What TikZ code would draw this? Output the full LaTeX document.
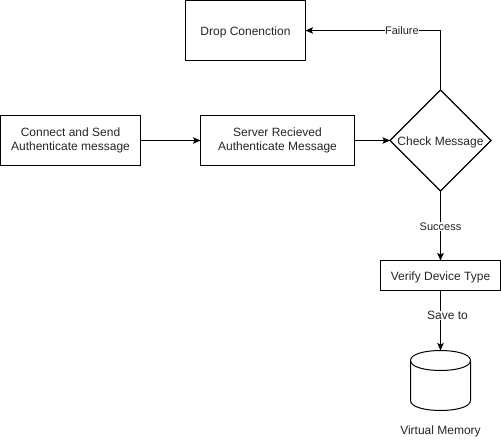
\documentclass[tikz,border=0pt]{standalone}
\usepackage{fontspec}
\setmainfont{Liberation Sans}
\usetikzlibrary{shapes.geometric,arrows.meta}
\newcommand{\smalltag}{\fontsize{11}{13}\selectfont}
\tikzset{
  box/.style={draw=black,fill=white,line width=1pt,inner sep=0pt,outer sep=0pt,align=center,text=black!85,execute at begin node={\rule{0pt}{12pt}}},
  check/.style={draw=black,fill=white,diamond,line width=1.2pt,inner sep=0pt,outer sep=0pt,minimum width=101pt,minimum height=101pt,text=black!85},
  store/.style={inner sep=0pt,outer sep=0pt,minimum width=60pt,minimum height=60pt},
  storeline/.style={draw=black,fill=white,line width=1pt},
  link/.style={draw=black,line width=1pt,-{Stealth[length=7.5pt,width=6.5pt,inset=1.5pt]}},
  tag/.style={fill=white,inner sep=0.5pt,text=black!85},
  plain/.style={inner sep=0pt,text=black!85}
}
\begin{document}
\begin{tikzpicture}[x=1pt,y=-1pt,font=\fontsize{12}{14.5}\selectfont]
\useasboundingbox (0,0) rectangle (501,442);
\fill[white] (0,0) rectangle (501,442);
\node[box,minimum width=120pt,minimum height=60pt] (drop) at (245.5,30.5) {Drop Conenction};
\node[box,minimum width=140pt,minimum height=50pt] (conn) at (70.5,140.5) {Connect and Send\\Authenticate message};
\node[box,minimum width=154pt,minimum height=50pt] (serv) at (277.5,140.5) {Server Recieved\\Authenticate Message};
\node[check] (chk) at (440.5,140.5) {\raisebox{-4.5pt}[0pt][0pt]{\makebox[0pt]{Check Message}}};
\node[box,minimum width=120pt,minimum height=30pt] (ver) at (440.5,275.5) {Verify Device Type};
\node[store] (mem) at (440.5,380.5) {};
\draw[storeline,shift={(mem.north west)}] (0,10) .. controls (0,-3.33) and (60,-3.33) .. (60,10) -- (60,50) .. controls (60,63.33) and (0,63.33) .. (0,50) -- cycle;
\draw[storeline,fill=none,shift={(mem.north west)}] (0,10) .. controls (0,23.33) and (60,23.33) .. (60,10);
\node[plain] (vm) at (440.5,431.5) {Virtual Memory};
\draw[link] (conn) -- (serv);
\draw[link] (serv) -- (chk);
\draw[link] (chk.north) |- (drop.east) node[tag,pos=0.643,font=\smalltag] {Failure};
\draw[link] (chk.south) -- (ver.north) node[tag,midway,yshift=-0.5pt,font=\smalltag] {Success};
\draw[link] (ver.south) -- (mem.north) node[tag,pos=0.42,xshift=7pt] {Save to};
\end{tikzpicture}
\end{document}
